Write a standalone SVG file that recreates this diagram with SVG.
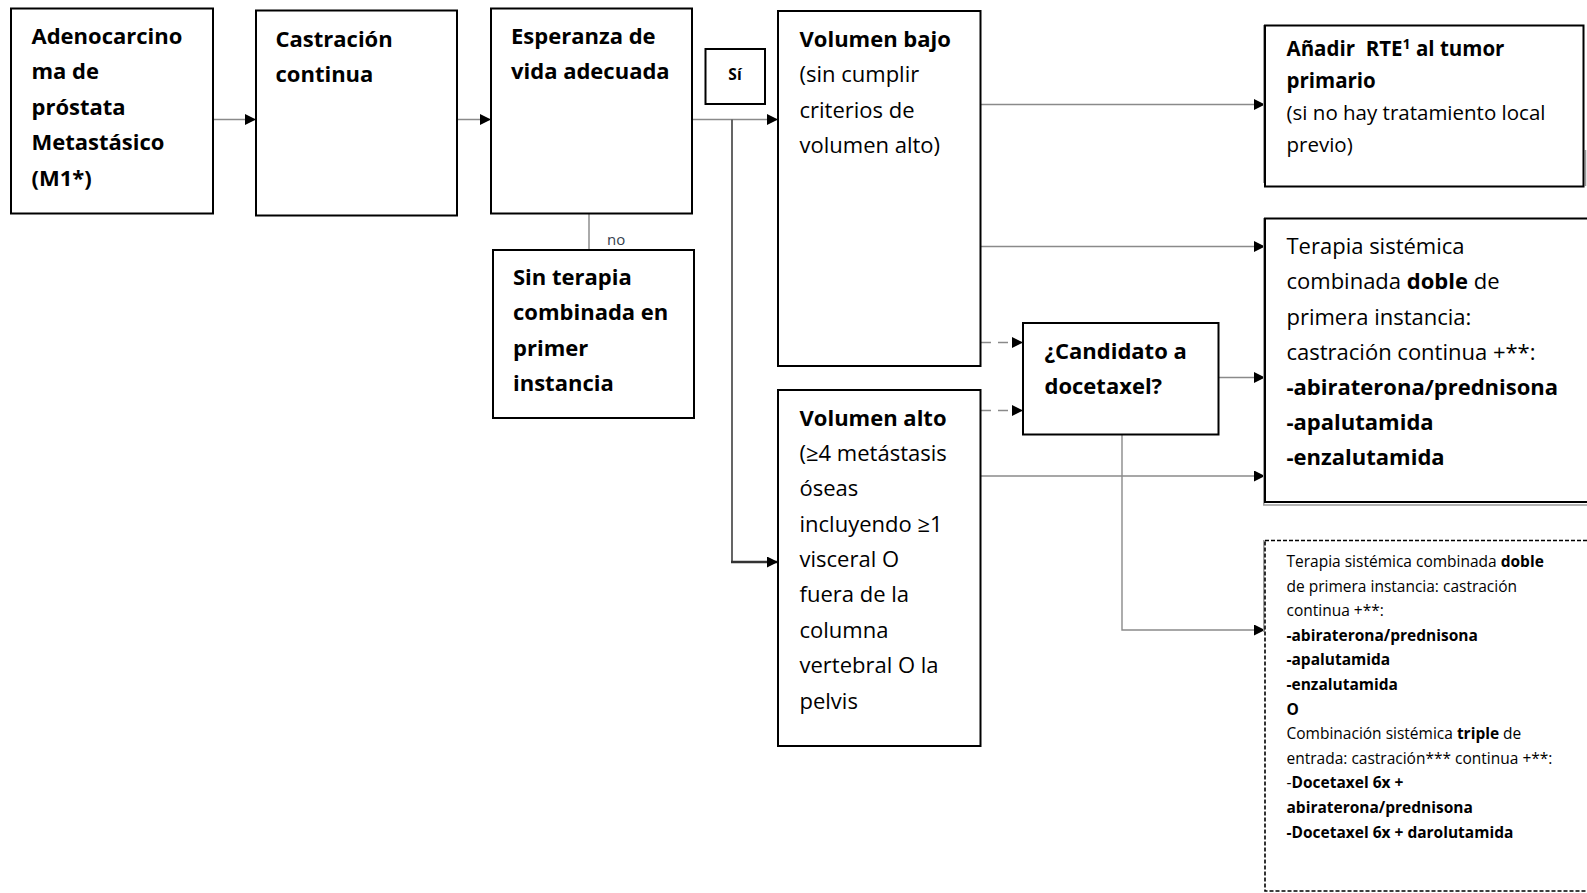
<svg xmlns="http://www.w3.org/2000/svg" width="1587" height="893" viewBox="0 0 1587 893">
  <style>
    .box { fill: #fff; stroke: #000; stroke-width: 2; }
    .dbox { fill: #fff; stroke: #000; stroke-width: 1.6; stroke-dasharray: 4 2; }
    .shadow { fill: none; stroke: #9a9a9a; stroke-width: 1.5; }
    .t { font-family: 'Open Sans', 'Liberation Sans', sans-serif; font-size: 22px; fill: #000; }
    .b { font-weight: bold; }
    .m { font-family: 'Open Sans', 'Liberation Sans', sans-serif; font-size: 20.5px; fill: #000; }
    .s { font-family: 'Open Sans', 'Liberation Sans', sans-serif; font-size: 15.5px; fill: #000; }
    .lbl { font-family: 'Open Sans', 'Liberation Sans', sans-serif; font-size: 15px; fill: #34404c; }
    .ln { fill: none; stroke: #8a8a8a; stroke-width: 1.4; }
    .dash { fill: none; stroke: #8a8a8a; stroke-width: 1.4; stroke-dasharray: 10 7; }
    .dark { fill: none; stroke: #555; stroke-width: 1.8; }
  </style>
  <defs>
    <marker id="arr" viewBox="0 0 11 11" refX="11" refY="5.5" markerWidth="11" markerHeight="11" markerUnits="userSpaceOnUse" orient="auto">
      <path d="M0,0 L11,5.5 L0,11 Z" fill="#000"/>
    </marker>
  </defs>

  <!-- connectors -->
  <g id="connectors">
    <line class="ln" x1="213" y1="119.5" x2="256" y2="119.5" marker-end="url(#arr)"/>
    <line class="ln" x1="457" y1="119.5" x2="491" y2="119.5" marker-end="url(#arr)"/>
    <line class="ln" x1="692" y1="119.5" x2="778" y2="119.5" marker-end="url(#arr)"/>
    <path class="dark" d="M732,119.5 V562"/>
    <path d="M731,562 H778" fill="none" stroke="#333" stroke-width="2.6" marker-end="url(#arr)"/>
    <line x1="589" y1="214" x2="589" y2="250" stroke="#aaa" stroke-width="2"/>
    <line class="ln" x1="981" y1="104.5" x2="1265" y2="104.5" marker-end="url(#arr)"/>
    <line class="ln" x1="981" y1="246.5" x2="1265" y2="246.5" marker-end="url(#arr)"/>
    <line class="dash" x1="981" y1="342.5" x2="1023" y2="342.5" marker-end="url(#arr)"/>
    <line class="dash" x1="981" y1="410.5" x2="1023" y2="410.5" marker-end="url(#arr)"/>
    <line class="ln" x1="981" y1="476" x2="1265" y2="476" marker-end="url(#arr)"/>
    <line class="ln" x1="1219" y1="377.5" x2="1265" y2="377.5" marker-end="url(#arr)"/>
    <path class="ln" d="M1122,435 V630 H1265" marker-end="url(#arr)"/>
    <text class="lbl" x="607" y="245">no</text>
  </g>

  <g id="n-adenocarcinoma">
    <rect class="box" x="11" y="8.5" width="202" height="205"/>
    <text class="t b" x="31.5">
      <tspan x="31.5" y="43.5">Adenocarcino</tspan>
      <tspan x="31.5" y="79">ma de</tspan>
      <tspan x="31.5" y="114.5">próstata</tspan>
      <tspan x="31.5" y="150">Metastásico</tspan>
      <tspan x="31.5" y="185.5">(M1*)</tspan>
    </text>
  </g>

  <g id="n-castracion">
    <rect class="box" x="256" y="10.5" width="201" height="205"/>
    <text class="t b">
      <tspan x="275.5" y="46.5">Castración</tspan>
      <tspan x="275.5" y="82">continua</tspan>
    </text>
  </g>

  <g id="n-esperanza">
    <rect class="box" x="491" y="8.5" width="201" height="205"/>
    <text class="t b">
      <tspan x="511" y="43.5">Esperanza de</tspan>
      <tspan x="511" y="79">vida adecuada</tspan>
    </text>
  </g>

  <g id="n-si">
    <rect class="box" x="705.5" y="49" width="59.5" height="55" stroke-width="1.8"/>
    <text class="s b" x="735" y="80" text-anchor="middle">Sí</text>
  </g>

  <g id="n-sin-terapia">
    <rect class="box" x="493" y="250" width="201" height="168"/>
    <text class="t b">
      <tspan x="513" y="284.5">Sin terapia</tspan>
      <tspan x="513" y="320">combinada en</tspan>
      <tspan x="513" y="355.5">primer</tspan>
      <tspan x="513" y="391">instancia</tspan>
    </text>
  </g>

  <g id="n-volumen-bajo">
    <rect class="box" x="778" y="11" width="202.5" height="355"/>
    <text class="t">
      <tspan x="799.5" y="46.5" class="b">Volumen bajo</tspan>
      <tspan x="799.5" y="82">(sin cumplir</tspan>
      <tspan x="799.5" y="117.5">criterios de</tspan>
      <tspan x="799.5" y="152.5">volumen alto)</tspan>
    </text>
  </g>

  <g id="n-volumen-alto">
    <rect class="box" x="778" y="390" width="202.5" height="356"/>
    <text class="t">
      <tspan x="799.5" y="425.5" class="b">Volumen alto</tspan>
      <tspan x="799.5" y="460.5">(≥4 metástasis</tspan>
      <tspan x="799.5" y="496">óseas</tspan>
      <tspan x="799.5" y="531.5">incluyendo ≥1</tspan>
      <tspan x="799.5" y="567">visceral O</tspan>
      <tspan x="799.5" y="602">fuera de la</tspan>
      <tspan x="799.5" y="637.5">columna</tspan>
      <tspan x="799.5" y="673">vertebral O la</tspan>
      <tspan x="799.5" y="708.5">pelvis</tspan>
    </text>
  </g>

  <g id="n-candidato">
    <rect class="box" x="1023" y="323" width="195.5" height="111.5"/>
    <text class="t b">
      <tspan x="1044.5" y="358.5">¿Candidato a</tspan>
      <tspan x="1044.5" y="394">docetaxel?</tspan>
    </text>
  </g>

  <g id="n-rte">
    <path class="shadow" d="M1263.8,25 V183 M1585.5,150 V186"/>
    <rect class="box" x="1265" y="25.5" width="318.5" height="161"/>
    <text class="m">
      <tspan x="1286.5" y="56" class="b">Añadir&#160; RTE<tspan font-size="14" dy="-7">1</tspan><tspan dy="7"> al tumor</tspan></tspan>
      <tspan x="1286.5" y="88" class="b">primario</tspan>
      <tspan x="1286.5" y="120">(si no hay tratamiento local</tspan>
      <tspan x="1286.5" y="152">previo)</tspan>
    </text>
  </g>

  <g id="n-doble">
    <path class="shadow" d="M1263.8,218 V505 H1590"/>
    <rect class="box" x="1265" y="218.5" width="330" height="283.5"/>
    <text class="t">
      <tspan x="1286.5" y="254">Terapia sistémica</tspan>
      <tspan x="1286.5" y="289">combinada <tspan class="b">doble</tspan> de</tspan>
      <tspan x="1286.5" y="324.5">primera instancia:</tspan>
      <tspan x="1286.5" y="359.5">castración continua +**:</tspan>
      <tspan x="1286.5" y="394.5" class="b">-abiraterona/prednisona</tspan>
      <tspan x="1286.5" y="429.5" class="b">-apalutamida</tspan>
      <tspan x="1286.5" y="464.5" class="b">-enzalutamida</tspan>
    </text>
  </g>

  <g id="n-doble-o-triple">
    <path class="shadow" d="M1263.8,540 V632"/>
    <rect class="dbox" x="1265" y="540.5" width="330" height="350.5"/>
    <text class="s">
      <tspan x="1286.5" y="567">Terapia sistémica combinada <tspan class="b">doble</tspan></tspan>
      <tspan x="1286.5" y="591.6">de primera instancia: castración</tspan>
      <tspan x="1286.5" y="616.2">continua +**:</tspan>
      <tspan x="1286.5" y="640.8" class="b">-abiraterona/prednisona</tspan>
      <tspan x="1286.5" y="665.4" class="b">-apalutamida</tspan>
      <tspan x="1286.5" y="690" class="b">-enzalutamida</tspan>
      <tspan x="1286.5" y="714.6" class="b">O</tspan>
      <tspan x="1286.5" y="739.2">Combinación sistémica <tspan class="b">triple</tspan> de</tspan>
      <tspan x="1286.5" y="763.8">entrada: castración*** continua +**:</tspan>
      <tspan x="1286.5" y="788.4">-<tspan class="b">Docetaxel 6x +</tspan></tspan>
      <tspan x="1286.5" y="813" class="b">abiraterona/prednisona</tspan>
      <tspan x="1286.5" y="837.6" class="b">-Docetaxel 6x + darolutamida</tspan>
    </text>
  </g>
</svg>
